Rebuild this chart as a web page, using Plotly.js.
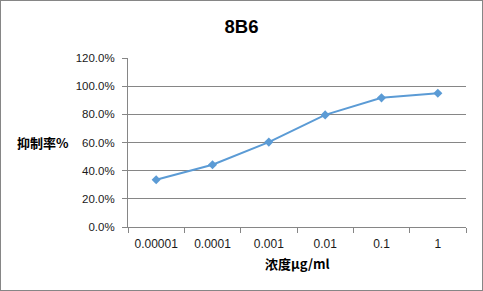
<!DOCTYPE html>
<html><head><meta charset="utf-8">
<script src="https://cdn.plot.ly/plotly-3.0.1.min.js"></script>
<style>
html,body{margin:0;padding:0;background:#fff;}
#chart{width:483px;height:291px;box-sizing:border-box;border:1px solid #868686;}
</style></head>
<body><div id="chart"></div>
<script>
const categories = ['0.00001','0.0001','0.001','0.01','0.1','1'];
const inhibition = [0.335, 0.442, 0.603, 0.796, 0.917, 0.950];
const yTickVals = [0, 0.2, 0.4, 0.6, 0.8, 1.0, 1.2];
const titleText = '8B6';
const yTitle = '抑制率%';
const xTitle = '浓度μg/ml';

const baseFont = 'Liberation Sans, Arial, sans-serif';
const cjkFont = 'Noto Sans CJK SC, Liberation Sans, sans-serif';

Plotly.newPlot('chart', [{
  x: categories, y: inhibition, type: 'scatter', mode: 'lines+markers',
  line: {color: '#5B9BD5', width: 2},
  marker: {symbol: 'diamond', size: 7, color: '#5B9BD5'},
  hoverinfo: 'none'
}], {
  width: 481, height: 289,
  margin: {l: 126.5, r: 16, t: 56.5, b: 62.7},
  paper_bgcolor: '#fff', plot_bgcolor: '#fff',
  showlegend: false,
  title: {text: '<b>' + titleText + '</b>', x: 0.5, xref: 'container', y: 1 - 26/289, yref: 'container', yanchor: 'middle',
          font: {family: baseFont, size: 18.5, color: '#000'}},
  xaxis: {type: 'category', range: [-0.5, categories.length - 0.5], tickson: 'boundaries', ticks: 'outside', ticklen: 5, tickcolor: '#868686',
          showline: true, linecolor: '#868686', linewidth: 1, showgrid: false, zeroline: false,
          ticklabelstandoff: 6,
          tickfont: {family: baseFont, size: 12, color: '#1a1a1a'}, fixedrange: true},
  yaxis: {range: [0, 1.2], tickvals: yTickVals, tickformat: '.1%', ticks: 'outside', ticklen: 5, tickcolor: '#868686',
          showline: true, linecolor: '#868686', linewidth: 1, showgrid: true, gridcolor: '#868686', gridwidth: 1,
          ticklabelstandoff: 5,
          zeroline: false, tickfont: {family: baseFont, size: 11.5, color: '#1a1a1a'}, fixedrange: true},
  annotations: [
    {text: '<b>' + yTitle + '</b>', xref: 'paper', yref: 'paper', x: 0, y: 0.5, xanchor: 'right', yanchor: 'middle',
     xshift: -57.5, showarrow: false, font: {family: cjkFont, size: 13, color: '#000'}},
    {text: '<b>' + xTitle + '</b>', xref: 'paper', yref: 'paper', x: 0.5, y: 0, xanchor: 'center', yanchor: 'middle',
     yshift: -36.7, showarrow: false, font: {family: cjkFont, size: 13, color: '#000'}}
  ]
}, {displayModeBar: false, staticPlot: true});
</script></body></html>
